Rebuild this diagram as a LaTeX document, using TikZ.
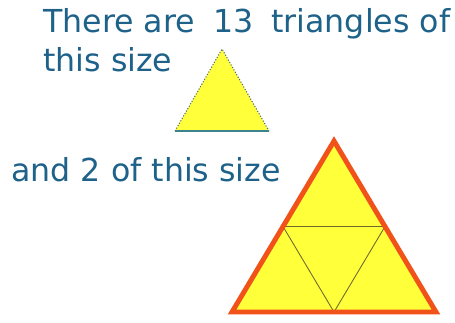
\documentclass[tikz,border=0pt]{standalone}
\usepackage{fontspec}
\setmainfont{DejaVu Sans}
\usetikzlibrary{calc, positioning}
\definecolor{ctext}{HTML}{1E6189}
\definecolor{cyellow}{HTML}{FFFF3A}
\definecolor{corange}{HTML}{F0521A}
\definecolor{colive}{HTML}{6E6A2C}
\definecolor{cedge}{HTML}{4A6470}
\begin{document}
\begin{tikzpicture}[x=0.02cm, y=-0.02cm, font=\fontsize{18}{21}\selectfont]
\useasboundingbox (0,0) rectangle (455,322);

% Captions
\node[ctext, anchor=base west, inner sep=0pt] (top) at (43,32)
  {There are\hspace{0.36cm}13\hspace{0.36cm}triangles of};
\node[ctext, anchor=base west, inner sep=0pt] (topb) at (43,71) {this size};
\node[ctext, anchor=base west, inner sep=0pt] (bot) at (11,181) {and 2 of this size};

% ============================================================
% Small triangle
\coordinate (sa) at (222,49);
\coordinate (sl) at (175,131);
\coordinate (sr) at (269,131);
\fill[cyellow] (sa) -- (sl) -- (sr) -- cycle;
\draw[cedge, line width=0.6pt, densely dotted] (sl) -- (sa) -- (sr);
\draw[cedge!80!cyan, line width=0.9pt] (sl) -- (sr);

% ============================================================
% Big triangle, split in four
\coordinate (ba) at (334,141);
\coordinate (bl) at (232,312);
\coordinate (br) at (436,312);
\coordinate (ml) at ($(ba)!0.5!(bl)$);
\coordinate (mr) at ($(ba)!0.5!(br)$);
\coordinate (mb) at ($(bl)!0.5!(br)$);
\fill[cyellow] (ba) -- (bl) -- (br) -- cycle;
\draw[colive, line width=0.5pt] (ml) -- (mr) -- (mb) -- cycle;
\draw[corange, line width=2.8pt, line join=miter] (ba) -- (bl) -- (br) -- cycle;

\end{tikzpicture}
\end{document}
